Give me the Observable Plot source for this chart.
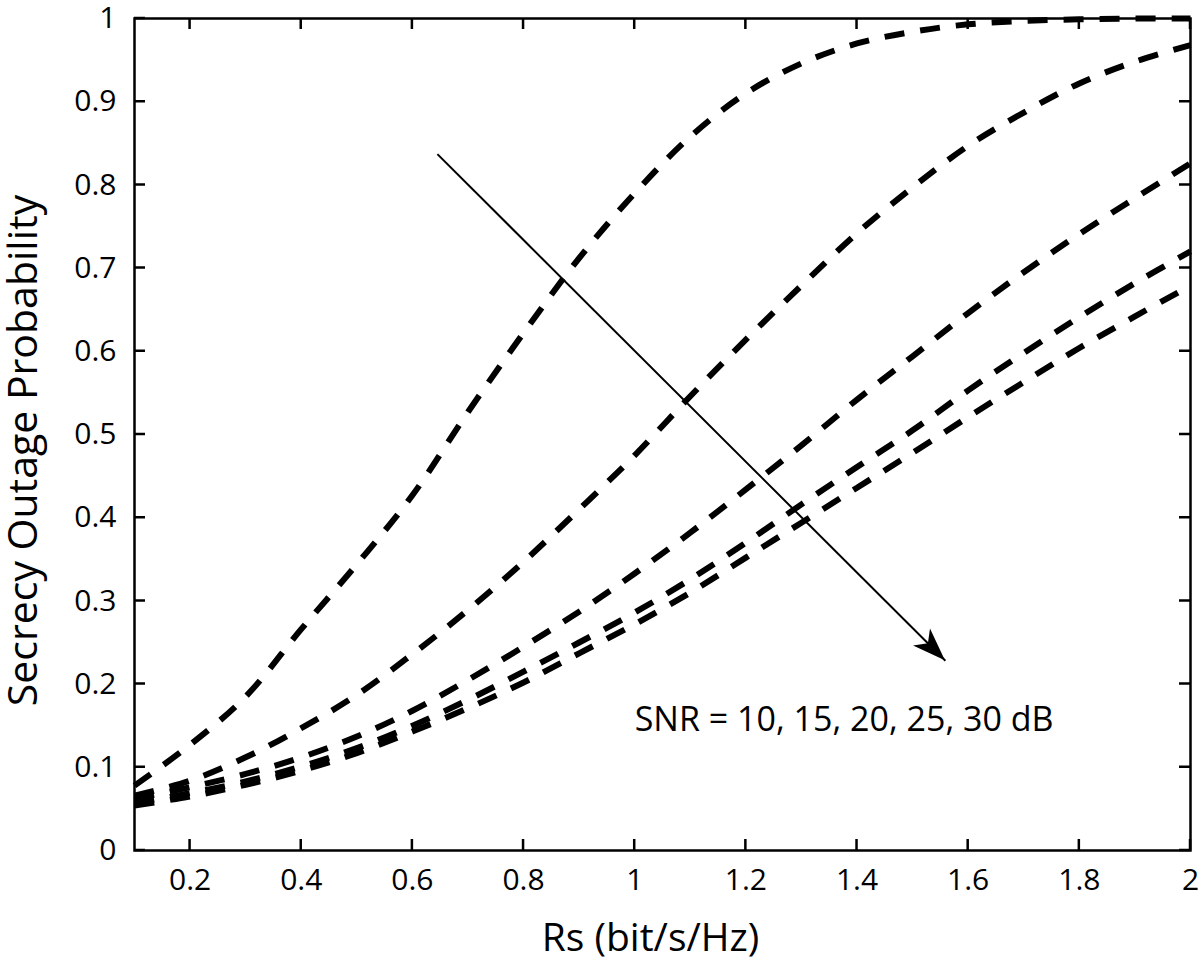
<!DOCTYPE html>
<html>
<head>
<meta charset="utf-8">
<script src="https://cdn.jsdelivr.net/npm/d3@7"></script>
<script src="https://cdn.jsdelivr.net/npm/@observablehq/plot@0.6"></script>
<style>
  html, body { margin: 0; padding: 0; background: #fff; }
  #chart { width: 1200px; height: 962px; }
</style>
</head>
<body>
<div id="chart"></div>
<script>
// Rate axis (bit/s/Hz)
const rs = [0.1,0.2,0.3,0.4,0.5,0.6,0.7,0.8,0.9,1.0,1.1,1.2,1.3,1.4,1.5,1.6,1.7,1.8,1.9,2.0];
// Secrecy outage probability per SNR
const snr10 = [0.078,0.127,0.185,0.266,0.344,0.427,0.527,0.622,0.712,0.790,0.858,0.910,0.946,0.970,0.984,0.993,0.997,0.999,1.0,1.0];
const snr15 = [0.066,0.084,0.112,0.147,0.187,0.236,0.289,0.347,0.410,0.475,0.546,0.614,0.679,0.742,0.797,0.847,0.887,0.922,0.948,0.968];
const snr20 = [0.062,0.076,0.092,0.112,0.137,0.168,0.205,0.245,0.287,0.333,0.382,0.434,0.487,0.542,0.594,0.646,0.695,0.741,0.784,0.826];
const snr25 = [0.057,0.069,0.083,0.101,0.123,0.150,0.181,0.215,0.250,0.286,0.326,0.370,0.416,0.461,0.505,0.553,0.598,0.641,0.682,0.720];
const snr30 = [0.054,0.065,0.079,0.096,0.117,0.143,0.171,0.202,0.237,0.272,0.310,0.352,0.394,0.436,0.478,0.521,0.563,0.604,0.642,0.679];
const seriesNames = ["10 dB","15 dB","20 dB","25 dB","30 dB"];

// Axis domains and tick values
const xDomain = [0.1, 2];
const yDomain = [0, 1];
const xTicks = [0.2,0.4,0.6,0.8,1.0,1.2,1.4,1.6,1.8,2.0];
const yTicks = [0,0.1,0.2,0.3,0.4,0.5,0.6,0.7,0.8,0.9,1.0];

// Annotation: arrow (start, end) and label
const arrowX = [0.645, 1.559];
const arrowY = [0.837, 0.228];
const annText = ["SNR = 10, 15, 20, 25, 30 dB"];
const annX = [1.0];
const annY = [0.144];

const xLabel = "Rs (bit/s/Hz)";
const yLabel = "Secrecy Outage Probability";

// Build table
const allSeries = [snr10, snr15, snr20, snr25, snr30];
const table = [];
allSeries.forEach((vals, i) => vals.forEach((v, j) => table.push({series: seriesNames[i], rs: rs[j], p: v})));
const arrowData = [{x1: arrowX[0], y1: arrowY[0], x2: arrowX[1], y2: arrowY[1]}];
const annData = annText.map((t, i) => ({t, x: annX[i], y: annY[i]}));

const W = 1200, H = 962, mL = 134, mR = 10, mT = 18, mB = 112;
const tickLen = 11;
const font = "Open Sans";
const fmt = d => `${d}`;

// inward ticks on all four sides, drawn as one path through the scales
const innerTicks = (index, scales) => {
  const x0 = scales.x(xDomain[0]), x1 = scales.x(xDomain[1]);
  const yb = scales.y(yDomain[0]), yt = scales.y(yDomain[1]);
  let d = "";
  for (const t of xTicks) {
    const x = scales.x(t);
    d += `M${x},${yb}L${x},${yb - tickLen}M${x},${yt}L${x},${yt + tickLen}`;
  }
  for (const t of yTicks) {
    const y = scales.y(t);
    d += `M${x0},${y}L${x0 + tickLen},${y}M${x1},${y}L${x1 - tickLen},${y}`;
  }
  return d3.create("svg:path")
    .attr("d", d)
    .attr("fill", "none")
    .attr("stroke", "black")
    .attr("stroke-width", 2.5)
    .node();
};

const arrowHead = (index, scales) => {
  const x1 = scales.x(arrowX[0]), y1 = scales.y(arrowY[0]);
  const x2 = scales.x(arrowX[1]), y2 = scales.y(arrowY[1]);
  const a = Math.atan2(y2 - y1, x2 - x1) * 180 / Math.PI;
  return d3.create("svg:path")
    .attr("d", "M0,0L-33,-12L-24,0L-33,12Z")
    .attr("fill", "black")
    .attr("transform", `translate(${x2},${y2}) rotate(${a})`)
    .node();
};

const chart = Plot.plot({
  width: W, height: H,
  marginLeft: mL, marginRight: mR, marginTop: mT, marginBottom: mB,
  style: {fontFamily: font, background: "white", color: "black"},
  x: {domain: xDomain, axis: null},
  y: {domain: yDomain, axis: null},
  marks: [
    // tick labels
    Plot.axisX(xTicks, {anchor: "bottom", tickSize: 0, tickPadding: 18, fontSize: 30, fill: "black", label: null, tickFormat: fmt}),
    Plot.axisY(yTicks, {anchor: "left", tickSize: 0, tickPadding: 18, fontSize: 30, fill: "black", label: null, tickFormat: fmt}),
    // curves
    Plot.line(table, {x: "rs", y: "p", z: "series", stroke: "black", strokeWidth: 6,
      strokeDasharray: "20,16", strokeLinecap: "butt", curve: "catmull-rom"}),
    // frame and inward ticks
    Plot.frame({stroke: "black", strokeWidth: 2.5}),
    innerTicks,
    // arrow
    Plot.link(arrowData, {x1: "x1", y1: "y1", x2: "x2", y2: "y2", stroke: "black", strokeWidth: 2}),
    arrowHead,
    // annotation text
    Plot.text(annData, {x: "x", y: "y", text: "t", textAnchor: "start", lineAnchor: "bottom", fontSize: 34, fill: "black"}),
    // axis titles
    Plot.text([xLabel], {frameAnchor: "bottom", text: d => d, lineAnchor: "bottom", dx: -12, dy: 100, fontSize: 39, fill: "black"}),
    Plot.text([yLabel], {frameAnchor: "left", text: d => d, rotate: -90, lineAnchor: "bottom", textAnchor: "middle", dx: -98, dy: 16, fontSize: 41, fill: "black"})
  ]
});
document.getElementById("chart").appendChild(chart);
</script>
</body>
</html>
